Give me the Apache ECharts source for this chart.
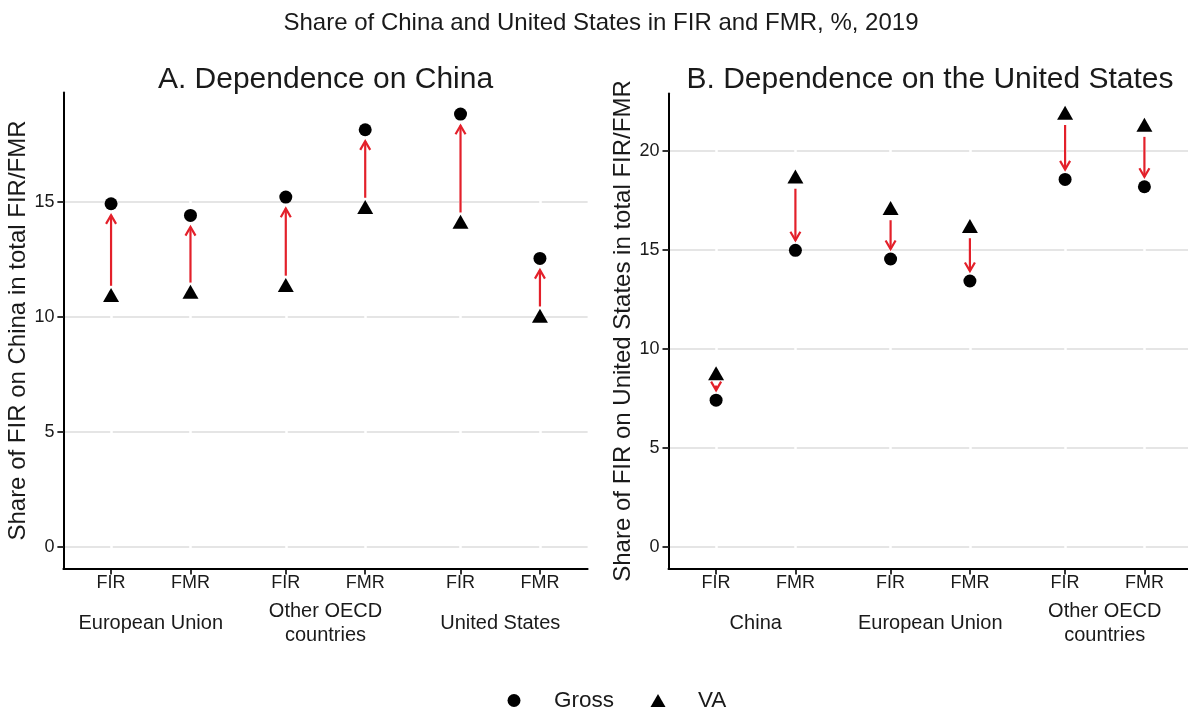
<!DOCTYPE html>
<html>
<head>
<meta charset="utf-8">
<title>Share of China and United States in FIR and FMR</title>
<script src="https://cdn.jsdelivr.net/npm/echarts@6/dist/echarts.min.js"></script>
<style>
  html, body { margin: 0; padding: 0; background: #fff; }
  #chart { width: 1188px; height: 711px; }
</style>
</head>
<body>
<div id="chart"></div>
<script>
// Measures along the x axis and their slot positions (pairs grouped by partner)
const measures = ['FIR', 'FMR', 'FIR', 'FMR', 'FIR', 'FMR'];
const slots = [1, 2, 3.2, 4.2, 5.4, 6.4];

// Panel A: dependence on China
const partnersA = ['European Union', 'Other OECD\ncountries', 'United States'];
const grossA = [14.93, 14.42, 15.22, 18.15, 18.83, 12.55];
const vaA = [10.86, 11.0, 11.3, 14.69, 14.05, 9.96];
const ticksA = [0, 5, 10, 15];

// Panel B: dependence on the United States
const partnersB = ['China', 'European Union', 'Other OECD\ncountries'];
const grossB = [7.41, 14.98, 14.54, 13.43, 18.56, 18.19];
const vaB = [8.65, 18.59, 17.0, 16.09, 21.81, 21.21];
const ticksB = [0, 5, 10, 15, 20];

const FONT = '"Liberation Sans", Arial, Helvetica, sans-serif';
const TEXT = '#1a1a1a';
const RED = '#E3202A';
const ARROW_GAP = 0.5;   // arrows stop short of both markers (data units)

const chart = echarts.init(document.getElementById('chart'), null, { renderer: 'canvas' });

function measureLabel(v) {
  const i = slots.findIndex(s => Math.abs(s - v) < 1e-6);
  return i >= 0 ? measures[i] : '';
}

// Arrow from the VA value towards the gross value, with an open head
function renderArrow(params, api) {
  const x = api.value(0), va = api.value(1), gross = api.value(2);
  const dir = gross > va ? 1 : -1;
  const p0 = api.coord([x, va + dir * ARROW_GAP]);
  const p1 = api.coord([x, gross - dir * ARROW_GAP]);
  const dx = p1[0] - p0[0], dy = p1[1] - p0[1];
  const len = Math.hypot(dx, dy) || 1;
  const bx = -dx / len, by = -dy / len;
  const L = 10, a = Math.PI / 6, c = Math.cos(a), s = Math.sin(a);
  const h1 = [p1[0] + L * (bx * c - by * s), p1[1] + L * (bx * s + by * c)];
  const h2 = [p1[0] + L * (bx * c + by * s), p1[1] + L * (-bx * s + by * c)];
  return {
    type: 'group',
    children: [
      { type: 'line', shape: { x1: p0[0], y1: p0[1], x2: p1[0], y2: p1[1] },
        style: { stroke: RED, lineWidth: 2.2 } },
      { type: 'polyline', shape: { points: [h1, p1, h2] },
        style: { stroke: RED, lineWidth: 2.2, fill: null } }
    ]
  };
}

function valueXAxis(g) {
  return {
    type: 'value', gridIndex: g, min: 0.4, max: 7.0, z: 1,
    axisLine: { show: false, onZero: false },
    axisTick: { show: true, customValues: slots, length: 6, lineStyle: { color: '#333', width: 2 } },
    axisLabel: { show: true, customValues: slots, formatter: measureLabel,
      fontSize: 18, fontFamily: FONT, color: TEXT, margin: 6 },
    splitLine: { show: true, lineStyle: { color: '#ffffff', width: 2.5 } }
  };
}

function partnerXAxis(g, partners) {
  return {
    type: 'category', gridIndex: g, position: 'bottom', data: partners, boundaryGap: true, z: 2,
    axisLine: { show: true, onZero: false, lineStyle: { color: '#000', width: 2 } },
    axisTick: { show: false },
    axisLabel: { show: true, interval: 0, fontSize: 20, lineHeight: 24, fontFamily: FONT,
      color: TEXT, margin: 55, verticalAlign: 'middle' },
    splitLine: { show: false }
  };
}

function yAxis(g, min, max, ticks, name) {
  return {
    type: 'value', gridIndex: g, min: min, max: max, z: 0,
    name: name, nameLocation: 'middle', nameGap: 31,
    nameTextStyle: { fontSize: 24, fontFamily: FONT, color: TEXT },
    axisLine: { show: true, onZero: false, lineStyle: { color: '#000', width: 2 } },
    axisTick: { show: true, customValues: ticks, length: 6, lineStyle: { color: '#333', width: 2 } },
    axisLabel: { show: true, customValues: ticks, fontSize: 18, fontFamily: FONT, color: TEXT, margin: 9 },
    splitLine: { show: true, lineStyle: { color: '#e5e5e5', width: 2 } }
  };
}

function panelSeries(xIdx, yIdx, gross, va) {
  return [
    {
      type: 'custom', name: 'change', xAxisIndex: xIdx, yAxisIndex: yIdx, z: 2,
      renderItem: renderArrow, silent: true,
      encode: { x: 0, y: [1, 2] },
      data: slots.map((x, i) => [x, va[i], gross[i]])
    },
    {
      type: 'scatter', name: 'Gross', xAxisIndex: xIdx, yAxisIndex: yIdx, z: 3,
      symbol: 'circle', symbolSize: 13, itemStyle: { color: '#000', opacity: 1 },
      data: slots.map((x, i) => [x, gross[i]])
    },
    {
      type: 'scatter', name: 'VA', xAxisIndex: xIdx, yAxisIndex: yIdx, z: 3,
      symbol: 'triangle', symbolSize: [16, 14], symbolOffset: [0, -2.3],
      itemStyle: { color: '#000', opacity: 1 },
      data: slots.map((x, i) => [x, va[i]])
    }
  ];
}

const option = {
  animation: false,
  backgroundColor: '#ffffff',
  textStyle: { fontFamily: FONT },
  title: [
    { text: 'Share of China and United States in FIR and FMR, %, 2019', left: 601, top: 11.5,
      textAlign: 'center', padding: 0,
      textStyle: { fontSize: 24, fontWeight: 'normal', fontFamily: FONT, color: TEXT } },
    { text: 'A. Dependence on China', left: 325.5, top: 65, textAlign: 'center', padding: 0,
      textStyle: { fontSize: 30, fontWeight: 'normal', fontFamily: FONT, color: TEXT } },
    { text: 'B. Dependence on the United States', left: 930, top: 65, textAlign: 'center', padding: 0,
      textStyle: { fontSize: 30, fontWeight: 'normal', fontFamily: FONT, color: TEXT } }
  ],
  legend: {
    data: [{ name: 'Gross', icon: 'circle' }, { name: 'VA', icon: 'triangle' }],
    left: 507.5, top: 689, padding: 0, itemWidth: 15, itemHeight: 13, itemGap: 36.5,
    itemStyle: { color: '#000', opacity: 1 },
    textStyle: { fontSize: 22.5, fontFamily: FONT, color: TEXT, padding: [0, 0, 0, 27.5] }
  },
  grid: [
    { left: 63.4, right: 600.4, top: 92.5, bottom: 142.5, outerBoundsMode: 'none', containLabel: false },
    { left: 668.5, right: -4, top: 93.5, bottom: 142.5, outerBoundsMode: 'none', containLabel: false }
  ],
  xAxis: [valueXAxis(0), partnerXAxis(0, partnersA), valueXAxis(1), partnerXAxis(1, partnersB)],
  yAxis: [
    yAxis(0, -0.94, 19.77, ticksA, 'Share of FIR on China in total FIR/FMR'),
    yAxis(1, -1.09, 22.9, ticksB, 'Share of FIR on United States in total FIR/FMR')
  ],
  series: [].concat(panelSeries(0, 0, grossA, vaA), panelSeries(2, 1, grossB, vaB))
};

chart.setOption(option);
</script>
</body>
</html>
